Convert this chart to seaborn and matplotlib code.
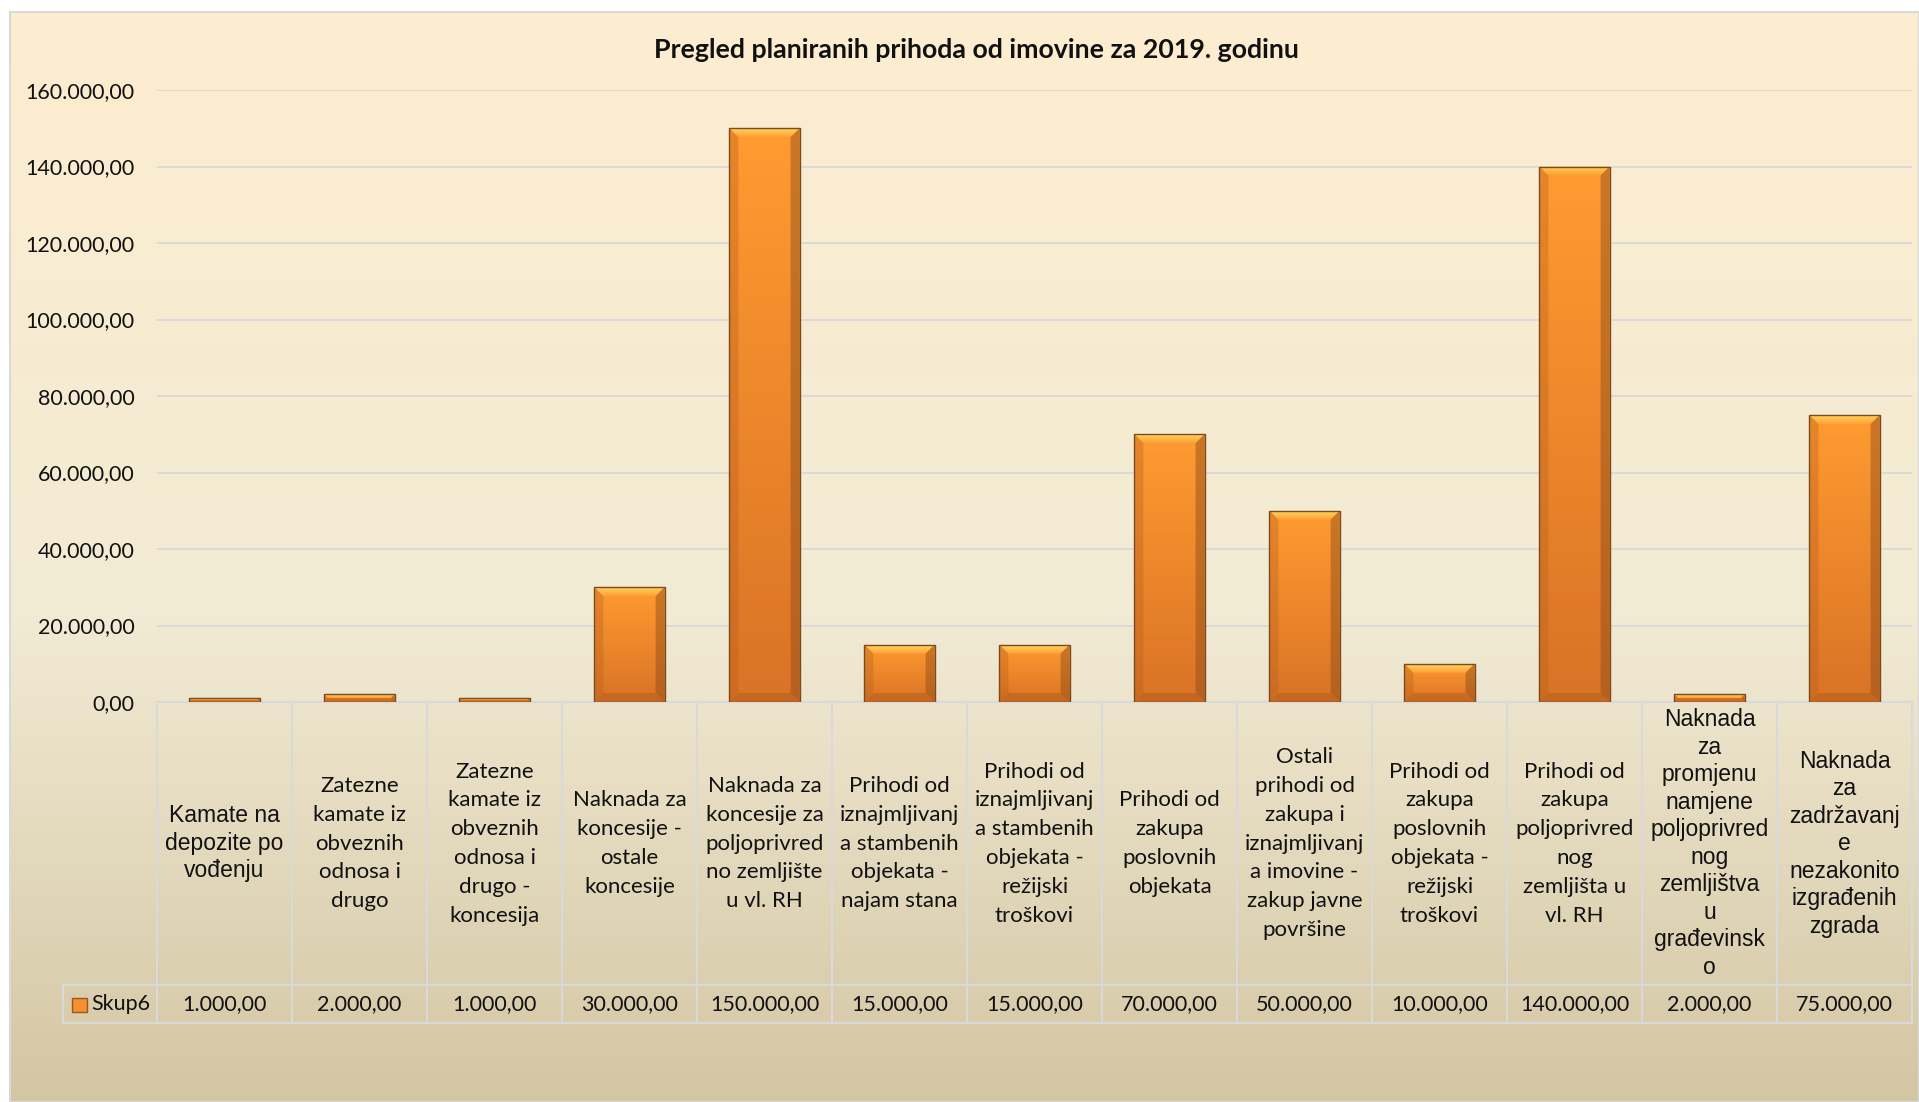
import numpy as np
import pandas as pd
import seaborn as sns
import matplotlib.pyplot as plt
from matplotlib.colors import LinearSegmentedColormap
from matplotlib.patches import Rectangle, Polygon
from matplotlib.lines import Line2D
from matplotlib.ticker import FuncFormatter, MultipleLocator
from matplotlib.transforms import blended_transform_factory

# podaci
naslov = "Pregled planiranih prihoda od imovine za 2019. godinu"
serija = "Skup6"
kategorije = [
    "Kamate na\ndepozite po\nvođenju",
    "Zatezne\nkamate iz\nobveznih\nodnosa i\ndrugo",
    "Zatezne\nkamate iz\nobveznih\nodnosa i\ndrugo -\nkoncesija",
    "Naknada za\nkoncesije -\nostale\nkoncesije",
    "Naknada za\nkoncesije za\npoljoprivred\nno zemljište\nu vl. RH",
    "Prihodi od\niznajmljivanj\na stambenih\nobjekata -\nnajam stana",
    "Prihodi od\niznajmljivanj\na stambenih\nobjekata -\nrežijski\ntroškovi",
    "Prihodi od\nzakupa\nposlovnih\nobjekata",
    "Ostali\nprihodi od\nzakupa i\niznajmljivanj\na imovine -\nzakup javne\npovršine",
    "Prihodi od\nzakupa\nposlovnih\nobjekata -\nrežijski\ntroškovi",
    "Prihodi od\nzakupa\npoljoprivred\nnog\nzemljišta u\nvl. RH",
    "Naknada\nza\npromjenu\nnamjene\npoljoprivred\nnog\nzemljištva\nu\ngrađevinsk\no",
    "Naknada\nza\nzadržavanj\ne\nnezakonito\nizgrađenih\nzgrada",
]
iznosi = [1000, 2000, 1000, 30000, 150000, 15000, 15000, 70000, 50000, 10000, 140000, 2000, 75000]
arial_stupci = [0, 11, 12]   # ovi natpisi su u originalu u Arialu


def hr_broj(v, pos=None):
    return f"{v:,.2f}".replace(",", "X").replace(".", ",").replace("X", ".")


W, H = 1919, 1102
sns.set_theme(style="white")
plt.rcParams['font.family'] = ['Lato', 'DejaVu Sans']

fig = plt.figure(figsize=(W / 100, H / 100), dpi=100)
fig.patch.set_facecolor('white')

# pozadina s gradijentom
bg = fig.add_axes([10 / W, 0, 1 - 10 / W, 1 - 12 / H])
bg_cmap = LinearSegmentedColormap.from_list(
    'bg', [(0, '#FDEDD0'), (0.55, '#F2EBD5'), (1, '#D3C6A3')])
bg.imshow(np.linspace(0, 1, 256).reshape(-1, 1), cmap=bg_cmap, aspect='auto',
          extent=[0, 1, 0, 1])
bg.set_xticks([])
bg.set_yticks([])
for s in bg.spines.values():
    s.set_color('#D9D9D9')
    s.set_linewidth(1.5)

grid_c = '#D9D9D9'
ax = fig.add_axes([157 / W, 1 - 702 / H, (1912 - 157) / W, 612 / H])
ax.patch.set_alpha(0)

df = pd.DataFrame({'kategorija': kategorije, 'iznos': iznosi})
sns.barplot(data=df, x='kategorija', y='iznos', color='#F7922F', width=0.52,
            edgecolor='#7A4A20', linewidth=1.0, ax=ax, zorder=3)

ax.set_xlim(-0.5, len(kategorije) - 0.5)
ax.set_ylim(0, 160000)
ax.yaxis.set_major_locator(MultipleLocator(20000))
ax.yaxis.set_major_formatter(FuncFormatter(hr_broj))
ax.grid(axis='y', color=grid_c, lw=1.3)
ax.set_axisbelow(True)
for s in ['top', 'right', 'left']:
    ax.spines[s].set_visible(False)
ax.spines['bottom'].set_color(grid_c)
ax.spines['bottom'].set_linewidth(1.5)
ax.set_xticks([])
ax.set_xlabel('')
ax.set_ylabel('')
ax.tick_params(axis='y', length=0, pad=16, labelsize=15.5, labelcolor='#111111')

# gradijent i rubovi stupaca
bar_cmap = LinearSegmentedColormap.from_list('bar', ['#D97326', '#FF9B31'])
top_cmap = LinearSegmentedColormap.from_list('top', ['#FFA235', '#FFD35C'])
px_x = 1 / 135.0
px_y = 20000 / 76.5
for p in ax.patches:
    x, w, h = p.get_x(), p.get_width(), p.get_height()
    img = ax.imshow(np.linspace(1, 0, 64).reshape(-1, 1), cmap=bar_cmap,
                    aspect='auto', extent=[x, x + w, 0, h], zorder=3.5)
    img.set_clip_path(p)
    d = min(9, h / px_y / 2)
    dx, dy = d * px_x, d * px_y
    top = Polygon([(x, h), (x + w, h), (x + w - dx, h - dy), (x + dx, h - dy)],
                  closed=True, facecolor='none', edgecolor='none', zorder=4)
    ax.add_patch(top)
    timg = ax.imshow(np.linspace(1, 0, 16).reshape(-1, 1), cmap=top_cmap,
                     aspect='auto', extent=[x, x + w, h - dy, h], zorder=4)
    timg.set_clip_path(top)
    ax.add_patch(Polygon([(x, 0), (x, h), (x + dx, h - dy), (x + dx, dy)],
                         closed=True, facecolor='#B85E1C', alpha=0.35, edgecolor='none', zorder=4))
    ax.add_patch(Polygon([(x + w, 0), (x + w, h), (x + w - dx, h - dy), (x + w - dx, dy)],
                         closed=True, facecolor='#8A4A18', alpha=0.45, edgecolor='none', zorder=4))
    ax.add_patch(Polygon([(x, 0), (x + w, 0), (x + w - dx, dy), (x + dx, dy)],
                         closed=True, facecolor='#B05A1C', alpha=0.45, edgecolor='none', zorder=4))
    p.set_facecolor('none')
    p.set_zorder(5)
ax.set_xlim(-0.5, len(kategorije) - 0.5)
ax.set_ylim(0, 160000)

# tablica podataka ispod grafikona
tr = blended_transform_factory(ax.transData, fig.transFigure)
y_top, y_mid, y_bot = 1 - 702 / H, 1 - 985 / H, 1 - 1023 / H
n = len(kategorije)
for k in range(n + 1):
    ax.add_line(Line2D([k - 0.5, k - 0.5], [y_top, y_bot], transform=tr,
                       color=grid_c, lw=1.5, clip_on=False))
for yy in (y_mid, y_bot):
    fig.add_artist(Line2D([63 / W, 1912 / W], [yy, yy], color=grid_c, lw=1.5))
fig.add_artist(Line2D([63 / W, 63 / W], [y_mid, y_bot], color=grid_c, lw=1.5))

for i, (lab, val) in enumerate(zip(kategorije, iznosi)):
    if i in arial_stupci:
        ax.text(i, (y_top + y_mid) / 2, lab, transform=tr, ha='center', va='center',
                multialignment='center', fontsize=16.5, family='Liberation Sans',
                linespacing=1.25, color='#111111')
    else:
        ax.text(i, (y_top + y_mid) / 2, lab, transform=tr, ha='center', va='center',
                multialignment='center', fontsize=16, linespacing=1.55, color='#111111')
    ax.text(i, (y_mid + y_bot) / 2, hr_broj(val), transform=tr, ha='center',
            va='center', fontsize=15.5, color='#111111')

fig.add_artist(Rectangle((72 / W, 1 - 1012 / H), 15 / W, 14 / H, transform=fig.transFigure,
                         facecolor='#F39130', edgecolor='#9A5520', lw=1))
fig.text(91 / W, (y_mid + y_bot) / 2, serija, ha='left', va='center',
         fontsize=15.5, color='#111111')

fig.text(976 / W, 1 - 50 / H, naslov, ha='center', va='center',
         fontsize=19.3, fontweight='bold', color='#111111')

fig.savefig('out.png', dpi=100)
